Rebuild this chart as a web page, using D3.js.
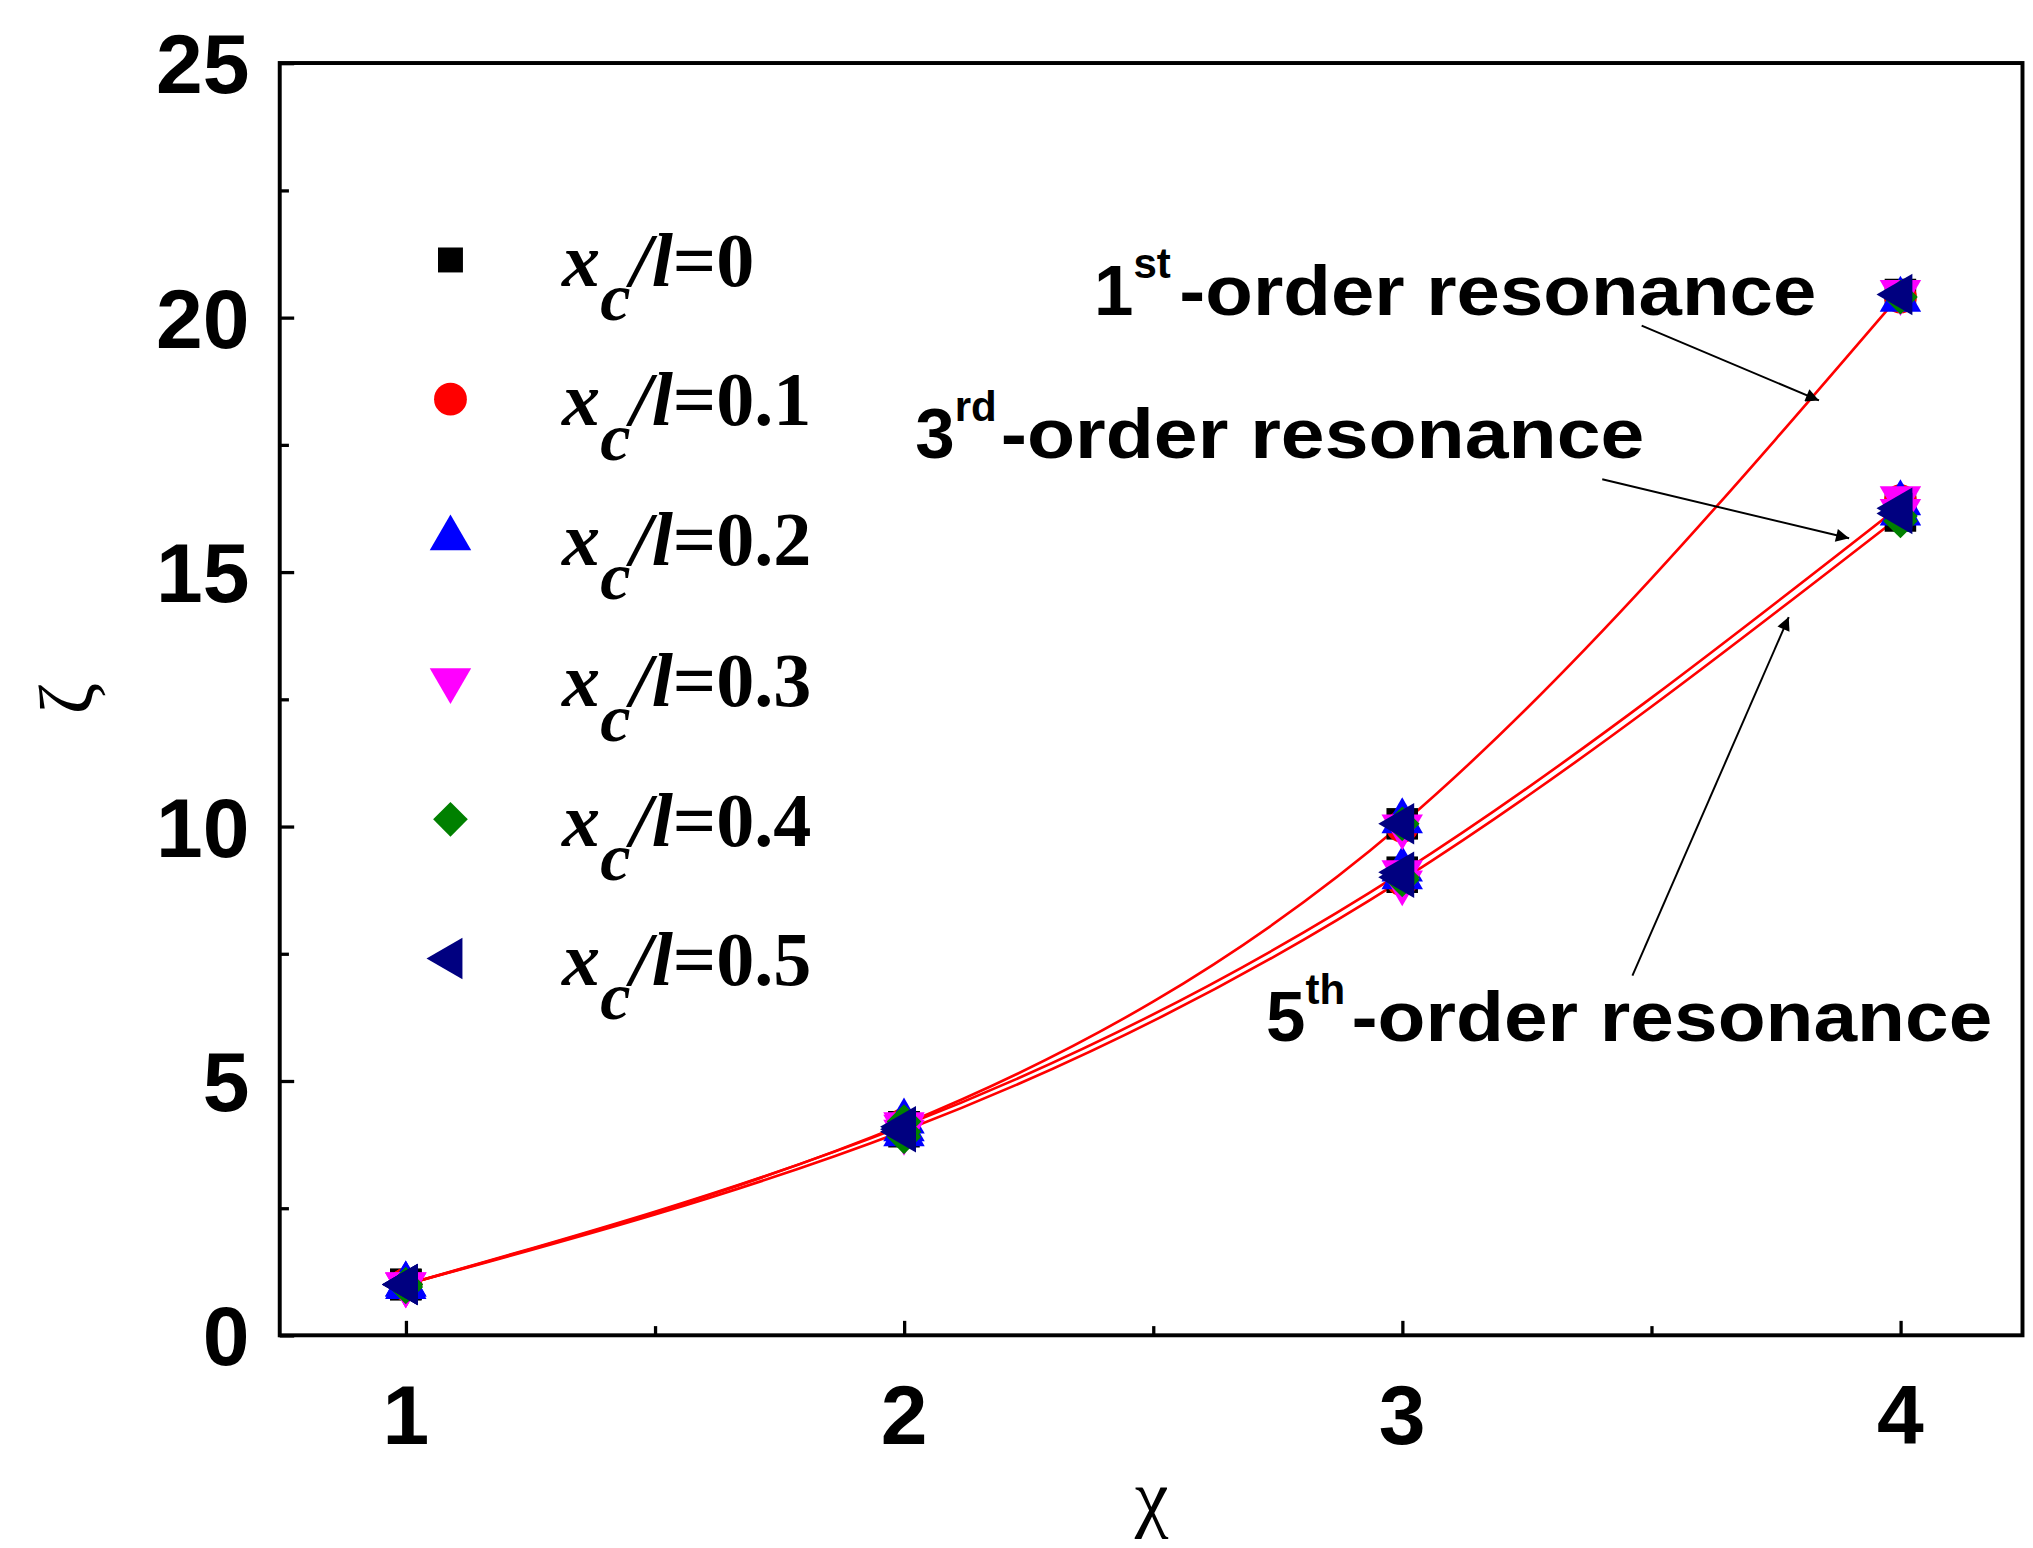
<!DOCTYPE html>
<html><head><meta charset="utf-8">
<script src="https://cdn.jsdelivr.net/npm/d3@7"></script>
<style>body{margin:0;background:#fff}</style>
</head><body>
<svg id="chart" width="2033" height="1548" viewBox="0 0 1548 1179" preserveAspectRatio="none"></svg>
<script>
const chi = [1, 2, 3, 4]
// fitted curves for each resonance order
const order1 = [1.0, 4.15, 10.05, 20.45]
const order3 = [1.0, 4.12, 9.1, 16.3]
const order5 = [1.0, 4.02, 8.95, 16.1]
const seriesNames = ['0', '0.1', '0.2', '0.3', '0.4', '0.5']
const seriesColors = ['#000000', '#ff0000', '#0000ff', '#ff00ff', '#008000', '#000080']
const seriesShapes = ['square', 'circle', 'up', 'down', 'diamond', 'left']
// measured points: [1st, 3rd, 5th] at chi = 1..4 per series
const pts0 = [[1.0, 4.1, 10.05, 20.45], [1.0, 4.1, 9.1, 16.3], [1.0, 4.0, 9.0, 16.1]]
const pts1 = [[1.0, 4.15, 10.0, 20.4], [1.0, 4.1, 9.05, 16.4], [1.0, 4.05, 8.95, 16.2]]
const pts2 = [[1.0, 4.05, 10.1, 20.35], [1.0, 4.2, 9.15, 16.35], [0.95, 3.95, 9.0, 16.15]]
const pts3 = [[1.0, 4.1, 10.0, 20.5], [1.0, 4.15, 9.1, 16.45], [1.0, 4.0, 8.9, 16.2]]
const pts4 = [[0.95, 4.2, 10.05, 20.4], [1.0, 4.0, 9.0, 16.1], [1.0, 3.9, 8.95, 16.0]]
const pts5 = [[1.0, 4.1, 10.05, 20.45], [1.0, 4.05, 9.1, 16.25], [1.0, 4.0, 9.0, 16.15]]
const allPts = [pts0, pts1, pts2, pts3, pts4, pts5]
const xTicks = [1, 2, 3, 4]
const yTicks = [0, 5, 10, 15, 20, 25]

const svg = d3.select('#chart')
const m = {left: 213, right: 1540, top: 48, bottom: 1017}
const x = d3.scaleLinear().domain([0.747, 4.245]).range([m.left, m.right])
const y = d3.scaleLinear().domain([0, 25]).range([m.bottom, m.top])

const numFont = '"Liberation Sans", Arial, sans-serif'

// frame
svg.append('rect').attr('x', m.left).attr('y', m.top)
    .attr('width', m.right - m.left).attr('height', m.bottom - m.top)
    .attr('fill', 'none').attr('stroke', '#000').attr('stroke-width', 3)

// axes with inward ticks
const xAxis = svg.append('g').attr('transform', `translate(0,${m.bottom})`)
    .call(d3.axisBottom(x).tickValues(d3.range(1, 4.01, 0.5)).tickSize(-10).tickFormat(''))
xAxis.select('.domain').remove()
xAxis.selectAll('line').attr('stroke-width', 2.5).attr('y2', (d) => d % 1 ? -7 : -11)
const yAxis = svg.append('g').attr('transform', `translate(${m.left},0)`)
    .call(d3.axisLeft(y).tickValues(d3.range(0, 25.01, 2.5)).tickSize(-10).tickFormat(''))
yAxis.select('.domain').remove()
yAxis.selectAll('line').attr('stroke-width', 2.5).attr('x2', (d) => d % 5 ? 7 : 11)

svg.selectAll('.xl').data(xTicks).join('text').attr('class', 'xl')
    .attr('x', d => x(d)).attr('y', 1100).attr('text-anchor', 'middle')
    .attr('font-family', numFont).attr('font-weight', 'bold').attr('font-size', 64)
    .text(d => d)
svg.selectAll('.yl').data(yTicks).join('text').attr('class', 'yl')
    .attr('x', 190).attr('y', d => y(d) + 23).attr('text-anchor', 'end')
    .attr('font-family', numFont).attr('font-weight', 'bold').attr('font-size', 64)
    .text(d => d)

svg.append('text').attr('x', 877).attr('y', 1160).attr('text-anchor', 'middle')
    .attr('font-family', '"Liberation Serif", serif').attr('font-size', 58).text('χ')
svg.append('text').attr('transform', 'translate(70,532) rotate(-90)').attr('text-anchor', 'middle')
    .attr('font-family', '"Liberation Serif", serif').attr('font-size', 58).text('ζ')

// fitted curves
const line = d3.line().x((d, i) => x(chi[i])).y(d => y(d)).curve(d3.curveNatural)
;[order1, order3, order5].forEach(o => {
    svg.append('path').datum(o).attr('d', line)
        .attr('fill', 'none').attr('stroke', '#ff0000').attr('stroke-width', 2)
})

// markers
function shapePath(shape, s) {
    switch (shape) {
        case 'square': return d3.symbol(d3.symbolSquare, s * s)()
        case 'circle': return d3.symbol(d3.symbolCircle, s * s * 0.85)()
        case 'diamond': return `M0,${-s * 0.55}L${s * 0.55},0L0,${s * 0.55}L${-s * 0.55},0Z`
        default: return d3.symbol(d3.symbolTriangle, s * s * 0.75)()
    }
}
function shapeRot(shape) {
    return shape === 'down' ? 180 : shape === 'left' ? -90 : 0
}
allPts.forEach((ser, si) => {
    ser.forEach(vals => {
        svg.append('g').selectAll('path').data(vals).join('path')
            .attr('d', shapePath(seriesShapes[si], 24))
            .attr('transform', (d, i) => `translate(${x(chi[i])},${y(d)}) rotate(${shapeRot(seriesShapes[si])})`)
            .attr('fill', seriesColors[si])
    })
})

// legend
const legY = [198, 304, 410, 518, 624, 730]
seriesNames.forEach((n, i) => {
    const s = seriesShapes[i]
    svg.append('path').attr('d', shapePath(s, s === 'square' ? 19 : 24))
        .attr('transform', `translate(343,${legY[i]}) rotate(${shapeRot(s)})`)
        .attr('fill', seriesColors[i])
    const t = svg.append('text').attr('x', 428).attr('y', legY[i] + 20)
        .attr('font-family', '"Liberation Serif", serif').attr('font-weight', 'bold')
        .attr('font-style', 'italic').attr('font-size', 58)
    t.append('tspan').text('x')
    t.append('tspan').attr('dy', 26).attr('font-size', 52).text('c')
    t.append('tspan').attr('dy', -26).text('/l')
    t.append('tspan').attr('font-style', 'normal').text('=' + n)
})

// annotations
svg.append('defs').append('marker').attr('id', 'arr').attr('viewBox', '0 0 10 10')
    .attr('refX', 10).attr('refY', 5).attr('markerWidth', 22).attr('markerHeight', 10)
    .attr('markerUnits', 'userSpaceOnUse').attr('orient', 'auto')
    .append('path').attr('d', 'M0,0 L10,5 L0,10 Z').attr('fill', '#000')
const notes = [
    {x: 833, y: 240, num: '1', sup: 'st', w: 550, from: [1250, 248], to: [1385, 305]},
    {x: 697, y: 349, num: '3', sup: 'rd', w: 555, from: [1220, 365], to: [1408, 410]},
    {x: 964, y: 793, num: '5', sup: 'th', w: 553, from: [1243, 743], to: [1362, 470]}
]
notes.forEach(n => {
    const g = svg.append('g')
    g.append('text').attr('x', n.x).attr('y', n.y)
        .attr('font-family', numFont).attr('font-weight', 'bold').attr('font-size', 54)
        .text(n.num)
    g.append('text').attr('x', n.x + 30).attr('y', n.y - 28)
        .attr('font-family', numFont).attr('font-weight', 'bold').attr('font-size', 32)
        .text(n.sup)
    g.append('text').attr('x', n.x + 65).attr('y', n.y)
        .attr('font-family', numFont).attr('font-weight', 'bold').attr('font-size', 54)
        .attr('textLength', n.w - 65).attr('lengthAdjust', 'spacingAndGlyphs')
        .text('-order resonance')
    svg.append('line').attr('x1', n.from[0]).attr('y1', n.from[1])
        .attr('x2', n.to[0]).attr('y2', n.to[1])
        .attr('stroke', '#000').attr('stroke-width', 1.5).attr('marker-end', 'url(#arr)')
})
</script>
</body></html>
